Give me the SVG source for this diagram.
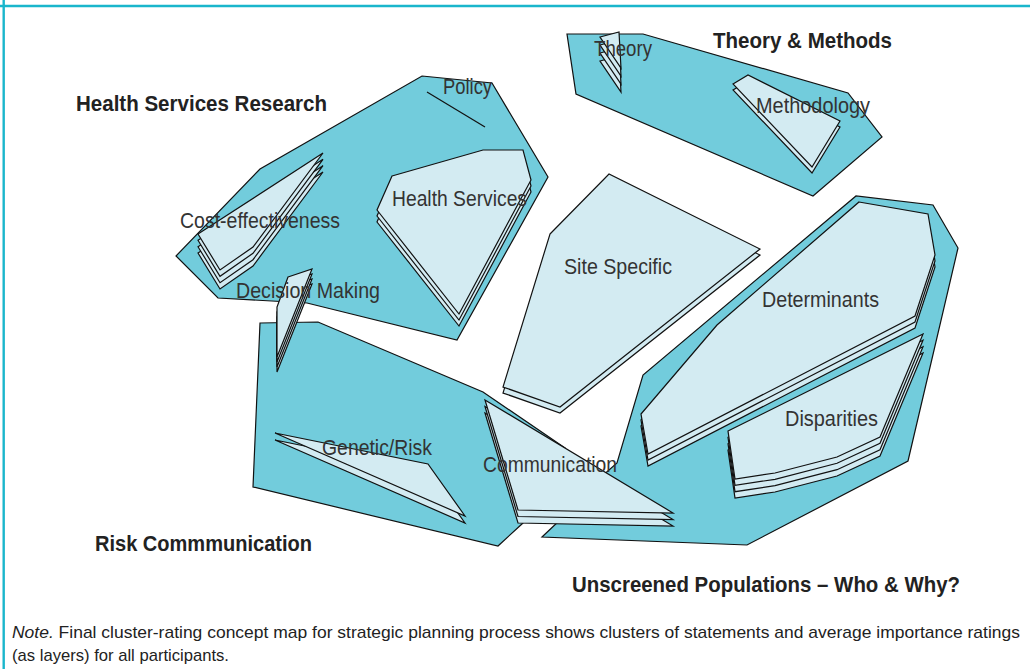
<svg xmlns="http://www.w3.org/2000/svg" xmlns:xlink="http://www.w3.org/1999/xlink" width="1030" height="669" viewBox="0 0 1030 669">
<style>
.cl{fill:#72CCDC;stroke:#111;stroke-width:1.2;stroke-linejoin:miter}
.ly{fill:#D3EBF2;stroke:#111;stroke-width:1.2;stroke-linejoin:miter}
.lb{font-family:"Liberation Sans Narrow","Liberation Sans",Arial,sans-serif;font-size:22px;fill:#333}
.hd{font-family:"Liberation Sans Narrow","Liberation Sans",Arial,sans-serif;font-size:22px;font-weight:bold;fill:#222}
.nt{font-family:"Liberation Sans Narrow","Liberation Sans",Arial,sans-serif;font-size:17px;fill:#222}
.fr{stroke:#1AB6CC;stroke-width:2.4;fill:none}
</style>
<defs>
<polygon id="pHS" points="392,176 483,150 523,150 531,180 459,314 377,210"/>
<polygon id="pCE" points="198,234 323,153 253,247 220,270"/>
<polygon id="pDM" points="288,277 312,269 277,357 277,307"/>
<polygon id="pSS" points="550,234 609,174 760,249 560,407 503,387"/>
<polygon id="pTh" points="600,37 619,32 621,68"/>
<polygon id="pMe" points="733,84 748,75 840,121 812,167"/>
<polygon id="pDe" points="859,202 928,214 935,255 915,316 648,454 641,414 717,325"/>
<polygon id="pDi" points="728,431 923,334 880,437 837,457 775,473 735,479"/>
<polygon id="pGR" points="275,433 428,464 465,516"/>
<polygon id="pCo" points="485,400 673,513 518,510"/>
</defs>
<rect x="0" y="0" width="1030" height="669" fill="#fff"/>
<line class="fr" x1="0" y1="6" x2="1030" y2="6"/>
<line class="fr" x1="3.7" y1="0" x2="3.7" y2="669"/>

<g id="connectors"></g>

<g id="cluster-health-services-research">
<polygon class="cl" points="422,76 492,83 548,177 457,340 307,303 218,298 176,256 260,169"/>
<text class="hd" x="76" y="111" textLength="251" lengthAdjust="spacingAndGlyphs">Health Services Research</text>
</g>
<g id="cluster-theory-methods">
<polygon class="cl" points="567,34 643,34 848,93 882,137 813,196 576,94"/>
<text class="hd" x="713" y="48" textLength="179" lengthAdjust="spacingAndGlyphs">Theory &amp; Methods</text>
</g>
<g id="cluster-risk-communication">
<polygon class="cl" points="260,323 318,322 483,392 565,448 523,523 498,546 253,487"/>
<text class="hd" x="95" y="551" textLength="217" lengthAdjust="spacingAndGlyphs">Risk Commmunication</text>
</g>
<g id="cluster-unscreened">
<polygon class="cl" points="542,537 560,520 600,478 617,463 643,375 856,196 933,205 958,248 908,461 747,545"/>
<text class="hd" x="572" y="592" textLength="388" lengthAdjust="spacingAndGlyphs">Unscreened Populations – Who &amp; Why?</text>
</g>

<g id="node-policy">
<line x1="427" y1="92" x2="485" y2="127" stroke="#111" stroke-width="1.2"/>
<text class="lb" x="443" y="94" textLength="49" lengthAdjust="spacingAndGlyphs">Policy</text>
</g>
<g id="node-health-services">
<use xlink:href="#pHS" class="ly" transform="translate(0,12)"/>
<use xlink:href="#pHS" class="ly" transform="translate(0,6)"/>
<use xlink:href="#pHS" class="ly"/>
<text class="lb" x="392" y="206" textLength="135" lengthAdjust="spacingAndGlyphs">Health Services</text>
</g>
<g id="node-cost-effectiveness">
<use xlink:href="#pCE" class="ly" transform="translate(0,19)"/>
<use xlink:href="#pCE" class="ly" transform="translate(0,12.7)"/>
<use xlink:href="#pCE" class="ly" transform="translate(0,6.3)"/>
<use xlink:href="#pCE" class="ly"/>
<text class="lb" x="180" y="228" textLength="160" lengthAdjust="spacingAndGlyphs">Cost-effectiveness</text>
</g>
<g id="node-decision-making">
<use xlink:href="#pDM" class="ly" transform="translate(0,15)"/>
<use xlink:href="#pDM" class="ly" transform="translate(0,10)"/>
<use xlink:href="#pDM" class="ly" transform="translate(0,5)"/>
<use xlink:href="#pDM" class="ly"/>
<text class="lb" x="236" y="298" textLength="144" lengthAdjust="spacingAndGlyphs">Decision Making</text>
</g>
<g id="node-site-specific">
<use xlink:href="#pSS" class="ly" transform="translate(0,6)"/>
<use xlink:href="#pSS" class="ly"/>
<text class="lb" x="564" y="274" textLength="108" lengthAdjust="spacingAndGlyphs">Site Specific</text>
</g>
<g id="node-theory">
<use xlink:href="#pTh" class="ly" transform="translate(0,24)"/>
<use xlink:href="#pTh" class="ly" transform="translate(0,16)"/>
<use xlink:href="#pTh" class="ly" transform="translate(0,8)"/>
<use xlink:href="#pTh" class="ly"/>
<text class="lb" x="594" y="56" textLength="58" lengthAdjust="spacingAndGlyphs">Theory</text>
</g>
<g id="node-methodology">
<use xlink:href="#pMe" class="ly" transform="translate(0,6)"/>
<use xlink:href="#pMe" class="ly"/>
<text class="lb" x="756" y="113" textLength="114" lengthAdjust="spacingAndGlyphs">Methodology</text>
</g>
<g id="node-determinants">
<use xlink:href="#pDe" class="ly" transform="translate(0,12)"/>
<use xlink:href="#pDe" class="ly" transform="translate(0,6)"/>
<use xlink:href="#pDe" class="ly"/>
<text class="lb" x="762" y="307" textLength="117" lengthAdjust="spacingAndGlyphs">Determinants</text>
</g>
<g id="node-disparities">
<use xlink:href="#pDi" class="ly" transform="translate(0,19)"/>
<use xlink:href="#pDi" class="ly" transform="translate(0,12.7)"/>
<use xlink:href="#pDi" class="ly" transform="translate(0,6.3)"/>
<use xlink:href="#pDi" class="ly"/>
<text class="lb" x="785" y="426" textLength="93" lengthAdjust="spacingAndGlyphs">Disparities</text>
</g>
<g id="node-genetic-risk">
<use xlink:href="#pGR" class="ly" transform="translate(0,7)"/>
<use xlink:href="#pGR" class="ly"/>
<text class="lb" x="322" y="455" textLength="110" lengthAdjust="spacingAndGlyphs">Genetic/Risk</text>
</g>
<g id="node-communication">
<use xlink:href="#pCo" class="ly" transform="translate(0,13)"/>
<use xlink:href="#pCo" class="ly" transform="translate(0,6.5)"/>
<use xlink:href="#pCo" class="ly"/>
<text class="lb" x="483" y="472" textLength="134" lengthAdjust="spacingAndGlyphs">Communication</text>
</g>

<g id="note">
<text class="nt" x="12" y="638" textLength="1008" lengthAdjust="spacingAndGlyphs"><tspan font-style="italic">Note.</tspan> Final cluster-rating concept map for strategic planning process shows clusters of statements and average importance ratings</text>
<text class="nt" x="12" y="661" textLength="217" lengthAdjust="spacingAndGlyphs">(as layers) for all participants.</text>
</g>
</svg>
